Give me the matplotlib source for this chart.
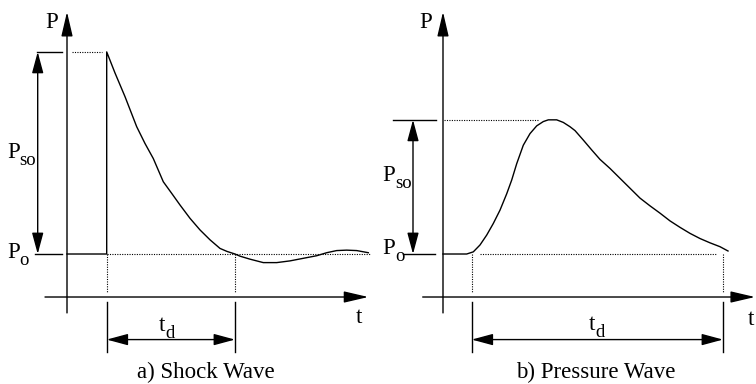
#!/usr/bin/env python3
"""Schematic of a blast shock wave vs. a pressure wave (P against t)."""

import matplotlib

matplotlib.use("Agg")
import matplotlib.pyplot as plt

plt.rcParams["font.family"] = ["Liberation Serif", "DejaVu Serif"]

# Units: t in arbitrary time units, P with ambient pressure Po = 1.
P_AMBIENT = 1.0

# a) Shock wave: instant jump at arrival, decay, negative phase.
SHOCK_T = [0.0, 3.97, 3.97, 4.8, 5.8, 6.97, 7.8, 8.63, 9.63, 10.47, 11.3,
           12.3, 13.3, 14.3, 15.3, 16.0, 16.8, 17.3, 18.3, 19.63, 20.97,
           22.3, 23.63, 24.97, 25.97, 26.97, 27.97, 28.97, 30.13]
SHOCK_P = [1.0, 1.0, 5.70, 5.21, 4.66, 3.96, 3.57, 3.22, 2.68, 2.41, 2.14,
           1.83, 1.56, 1.33, 1.13, 1.06, 1.0, 0.95, 0.88, 0.80, 0.80,
           0.84, 0.90, 0.96, 1.03, 1.08, 1.09, 1.08, 1.03]
SHOCK_PEAK = 5.70
SHOCK_TD = (3.97, 16.8)

# b) Pressure wave: gradual rise and fall.
PRESS_T = [0.0, 2.37, 3.03, 3.7, 4.37, 5.03, 5.7, 6.37, 6.87, 7.37, 8.03,
           8.7, 9.37, 10.03, 10.53, 11.37, 12.03, 12.7, 13.2, 14.03, 14.87,
           15.7, 16.7, 17.7, 18.7, 19.7, 20.7, 21.7, 22.7, 23.7, 24.7, 25.7,
           26.7, 27.7, 28.5]
PRESS_P = [1.0, 1.0, 1.05, 1.21, 1.44, 1.71, 2.02, 2.40, 2.72, 3.10, 3.53,
           3.80, 3.98, 4.08, 4.12, 4.12, 4.06, 3.96, 3.87, 3.65, 3.42,
           3.20, 2.99, 2.76, 2.53, 2.30, 2.12, 1.95, 1.77, 1.62, 1.48, 1.36,
           1.26, 1.17, 1.07]
PRESS_PEAK = 4.12
PRESS_TD = (2.87, 28.0)

FONT = 16.5
SUB_FONT = 13.5
LW = 1.0
DOT = dict(color="black", lw=0.8, linestyle=(0, (1, 1.2)), clip_on=False)
SOLID = dict(color="black", lw=LW, clip_on=False)


def Arrow(ax, tail, tip, style="-|>", hl=1.5, hw=0.35):
    ax.annotate("", xy=tip, xytext=tail, annotation_clip=False,
                arrowprops=dict(arrowstyle=f"{style},head_length={hl},head_width={hw}",
                                color="black", lw=LW, shrinkA=0, shrinkB=0,
                                mutation_scale=10))


def Label(ax, xy, main, sub):
    """Main letter with a large, well-lowered subscript (as in the figure)."""
    txt = ax.text(*xy, main, fontsize=FONT, ha="left", va="baseline")
    ax.annotate(sub, xy=(1, 0), xycoords=txt, xytext=(0, -1.5),
                textcoords="offset points", fontsize=SUB_FONT,
                ha="left", va="baseline", annotation_clip=False)


def DrawPanel(ax, t, p, peak, td, lo):
    # axes with arrow heads
    Arrow(ax, (0, -0.37), (0, 6.63))
    Arrow(ax, (lo["x_start"], 0), (lo["x_end"], 0))
    ax.text(*lo["p_xy"], "P", fontsize=FONT, ha="center", va="baseline")
    ax.text(*lo["t_xy"], "t", fontsize=FONT, ha="center", va="baseline")

    # pressure history
    ax.plot(t, p, **SOLID)

    # peak and ambient reference lines
    ax.plot(lo["peak_tick"], [peak, peak], **SOLID)
    ax.plot(lo["base_tick"], [P_AMBIENT, P_AMBIENT], **SOLID)
    ax.plot(lo["peak_dot"], [peak, peak], **DOT)
    ax.plot(lo["base_dot"], [P_AMBIENT, P_AMBIENT], **DOT)
    Arrow(ax, (lo["pso_arrow"], P_AMBIENT), (lo["pso_arrow"], peak),
          style="<|-|>", hl=1.3, hw=0.35)
    Label(ax, lo["pso_xy"], "P", "so")
    Label(ax, lo["po_xy"], "P", "o")

    # duration dimension
    for x in td:
        ax.plot([x, x], [P_AMBIENT, 0.09], **DOT)
        ax.plot([x, x], [-0.11, -1.27], **SOLID)
    Arrow(ax, (td[0], -0.99), (td[1], -0.99), style="<|-|>", hl=1.3, hw=0.35)
    Label(ax, lo["td_xy"], "t", "d")
    ax.text(*lo["cap_xy"], lo["caption"], fontsize=FONT,
            ha="center", va="baseline")


def main():
    fig = plt.figure(figsize=(7.56, 3.84), dpi=100)
    ax1 = fig.add_axes([0, 0, 0.5, 1])
    ax2 = fig.add_axes([0.5, 0, 0.5, 1])
    ax1.set_xlim(-6.7, 31.1)
    ax2.set_xlim(-6.5, 31.3)
    for ax in (ax1, ax2):
        ax.set_ylim(-2.023, 6.907)
        ax.axis("off")

    DrawPanel(ax1, SHOCK_T, SHOCK_P, SHOCK_PEAK, SHOCK_TD, dict(
        x_start=-2.2, x_end=30.13, p_xy=(-1.55, 6.26), t_xy=(29.15, -0.60),
        peak_tick=[-3.03, -0.53], base_tick=[-3.2, -0.5],
        peak_dot=[0.47, 3.47], base_dot=[3.97, 30.3], pso_arrow=-2.93,
        pso_xy=(-6.0, 3.23), po_xy=(-6.0, 0.907), td_xy=(9.2, -0.79),
        cap_xy=(13.9, -1.88), caption="a) Shock Wave"))
    DrawPanel(ax2, PRESS_T, PRESS_P, PRESS_PEAK, PRESS_TD, dict(
        x_start=-2.03, x_end=31.2, p_xy=(-1.7, 6.26), t_xy=(30.8, -0.65),
        peak_tick=[-5.03, -0.7], base_tick=[-4.0, -0.8],
        peak_dot=[0.1, 9.5], base_dot=[3.7, 27.4], pso_arrow=-3.0,
        pso_xy=(-6.1, 2.70), po_xy=(-6.1, 1.0), td_xy=(14.6, -0.77),
        cap_xy=(15.3, -1.88), caption="b) Pressure Wave"))
    fig.savefig("out.png", dpi=100)


if __name__ == "__main__":
    main()
